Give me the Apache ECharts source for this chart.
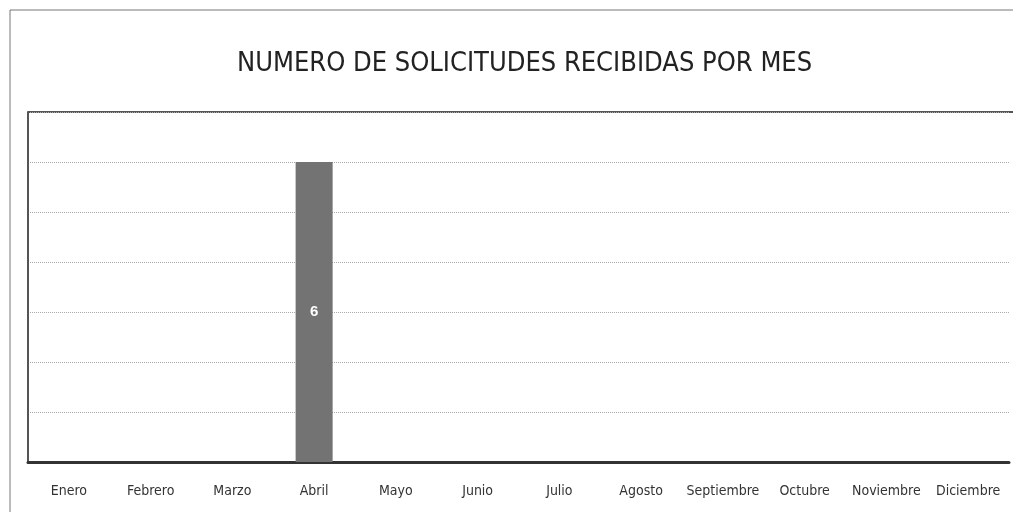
<!DOCTYPE html>
<html>
<head>
<meta charset="UTF-8">
<title></title>
<style>
  html, body { margin: 0; padding: 0; background: #fff; }
  #chart { width: 1013px; height: 512px; }
</style>
<script src="https://cdn.jsdelivr.net/npm/echarts@6/dist/echarts.min.js"></script>
</head>
<body>
<div id="chart"></div>
<script>
  // datos del grafico
  var meses = ['Enero', 'Febrero', 'Marzo', 'Abril', 'Mayo', 'Junio', 'Julio',
               'Agosto', 'Septiembre', 'Octubre', 'Noviembre', 'Diciembre'];
  var solicitudes = [0, 0, 0, 6, 0, 0, 0, 0, 0, 0, 0, 0];
  var titulo = 'NUMERO DE SOLICITUDES RECIBIDAS POR MES';

  var fuente = 'DejaVu Sans Condensed, Open Sans';

  var chart = echarts.init(document.getElementById('chart'));
  var option = {
    animation: false,
    title: {
      text: titulo,
      left: 232,
      top: 45,
      textStyle: {
        fontFamily: fuente,
        fontSize: 27,
        fontWeight: 'normal',
        color: '#222'
      }
    },
    grid: { left: 28, right: 4, top: 112, bottom: 50 },
    graphic: [
      // marco exterior
      { type: 'rect', shape: { x: 10, y: 10, width: 1100, height: 600 },
        style: { fill: 'none', stroke: '#777', lineWidth: 1 } },
      // borde superior del area de trazado
      { type: 'line', shape: { x1: 28, y1: 112, x2: 1013, y2: 112 },
        style: { stroke: '#555', lineWidth: 2 } }
    ],
    xAxis: {
      type: 'category',
      data: meses,
      axisLine: { lineStyle: { color: '#333', width: 3 } },
      axisTick: { show: false },
      axisLabel: {
        interval: 0,
        margin: 22,
        fontFamily: fuente,
        fontSize: 14,
        color: '#333'
      }
    },
    yAxis: {
      type: 'value',
      min: 0,
      max: 7,
      interval: 1,
      axisLine: { show: true, lineStyle: { color: '#555', width: 2 } },
      axisLabel: { show: false },
      splitLine: { lineStyle: { color: '#aaa', type: 'dotted', width: 1 } }
    },
    series: [{
      type: 'bar',
      data: solicitudes.map(function (v) { return v === 0 ? null : v; }),
      barWidth: 37,
      itemStyle: { color: '#737373' },
      label: {
        show: true,
        position: 'inside',
        color: '#fff',
        fontWeight: 'bold',
        fontSize: 15
      }
    }]
  };
  chart.setOption(option);
</script>
</body>
</html>
